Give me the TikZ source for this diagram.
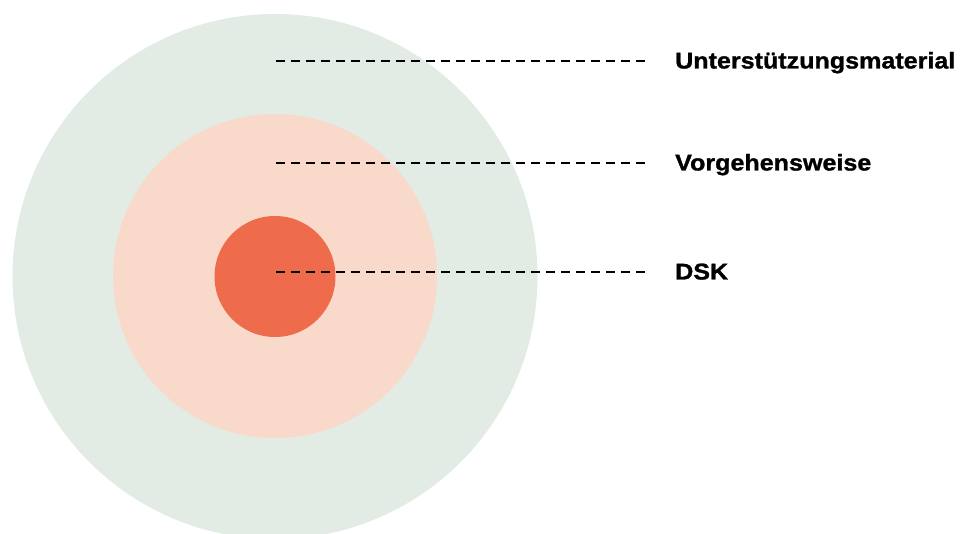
\documentclass[tikz,border=0pt]{standalone}
\usepackage{fontspec}
\newfontfamily\labfont[FakeStretch=1.1,BoldFeatures={FakeBold=1.2}]{Liberation Sans}
\definecolor{outerc}{HTML}{E2EBE4}
\definecolor{midc}{HTML}{F9D9CA}
\definecolor{innerc}{HTML}{EE6B4B}
\begin{document}
\begin{tikzpicture}[x=1pt,y=-1pt,
  ring/.style={circle, draw=none, inner sep=0pt, minimum size=#1},
  leader/.style={line width=2.1pt, black, dash pattern=on 9pt off 6pt},
  lab/.style={anchor=base west, inner sep=0pt, font=\labfont\bfseries\fontsize{22.8}{26}\selectfont}]
\useasboundingbox (0,0) rectangle (960,534);
\begin{scope}
\clip (0,0) rectangle (960,534);
\node[ring=525pt, fill=outerc] (outer) at (275,276.5) {};
\node[ring=324pt, fill=midc] (mid) at (275,276) {};
\node[ring=121pt, fill=innerc] (inner) at (275,276.5) {};
\end{scope}
\coordinate (s1) at (276,61);
\coordinate (s2) at (276,163);
\coordinate (s3) at (276,272);
\node[lab] (l1) at (675,68.5) {Unterstützungsmaterial};
\node[lab] (l2) at (675,170.5) {Vorgehensweise};
\node[lab] (l3) at (675,279.5) {DSK};
\coordinate (e1) at (645,61);
\coordinate (e2) at (645,163);
\coordinate (e3) at (645,272);
\draw[leader] (s1) -- (e1);
\draw[leader] (s2) -- (e2);
\draw[leader] (s3) -- (e3);
\end{tikzpicture}
\end{document}
